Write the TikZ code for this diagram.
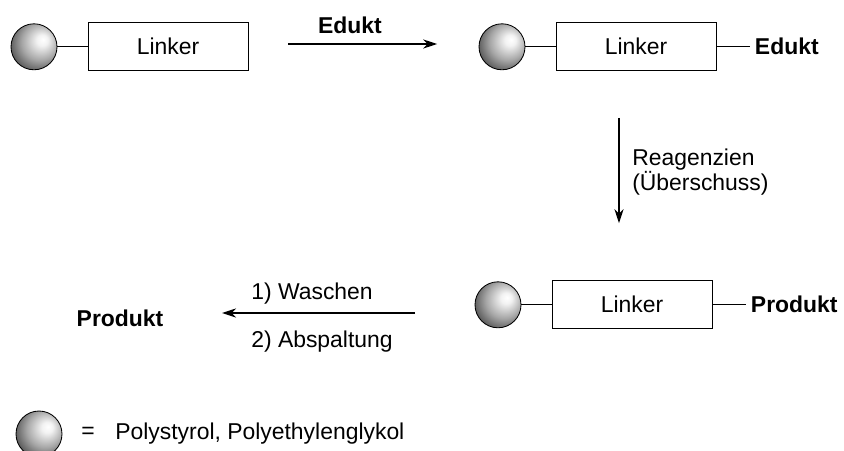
\documentclass[tikz,border=0pt]{standalone}
\usepackage{fontspec}
\setmainfont{Liberation Sans}
\usetikzlibrary{arrows.meta}

% Kugel (Harz) mit Glanzlicht rechts oben
\pgfdeclareradialshading{perle}{\pgfqpoint{10bp}{8bp}}{%
  color(0bp)=(white); color(6bp)=(white!95!black); color(20bp)=(black!35);
  color(34bp)=(black!72); color(46bp)=(black!92); color(60bp)=(black)}

\tikzset{
  perle/.style={circle, draw, line width=0.6pt, minimum size=1.15cm, inner sep=0pt, shading=perle},
  linker/.style={draw, line width=0.6pt, minimum width=4cm, minimum height=1.2cm},
  pfeil/.style={-{Stealth[length=10pt,width=6.5pt]}, line width=0.9pt},
  strich/.style={line width=0.6pt}
}

\begin{document}
\begin{tikzpicture}[font=\fontsize{16.3}{17.8}\selectfont]
                \useasboundingbox (0,0) rectangle (21.1,11.25);

                % obere Reihe
                \node[perle] (kugelA) at (0.85, 10.08) {};
                \node[linker] (linkerA) at (4.2, 10.08) {Linker};
                \draw[strich] (kugelA) -- (linkerA);

                \coordinate (edStart) at (7.2, 10.15);
                \coordinate (edEnde) at (10.93, 10.15);
                \draw[pfeil] (edStart) -- (edEnde);
                \node (eduktPfeil) at (8.75, 10.625) {\bfseries Edukt};

                \node[perle] (kugelB) at (12.55, 10.08) {};
                \node[linker] (linkerB) at (15.9, 10.08) {Linker};
                \node[anchor=west] (eduktB) at (18.75, 10.08) {\bfseries Edukt};
                \draw[strich] (kugelB) -- (linkerB);
                \draw[strich] (linkerB) -- (eduktB);

                % Reagenzien
                \coordinate (reStart) at (15.475, 8.3);
                \coordinate (reEnde) at (15.475, 5.67);
                \draw[pfeil] (reStart) -- (reEnde);
                \node[anchor=west, align=left, inner sep=0pt] (reagenz) at (15.8, 6.96) {Reagenzien\\(Überschuss)};

                % untere Reihe
                \node[perle] (kugelC) at (12.45, 3.63) {};
                \node[linker] (linkerC) at (15.8, 3.63) {Linker};
                \node[anchor=west] (produktC) at (18.65, 3.63) {\bfseries Produkt};
                \draw[strich] (kugelC) -- (linkerC);
                \draw[strich] (linkerC) -- (produktC);

                \coordinate (abStart) at (10.375, 3.425);
                \coordinate (abEnde) at (5.55, 3.425);
                \draw[pfeil] (abStart) -- (abEnde);
                \node[anchor=base west, inner sep=0pt] (waschen) at (6.275, 3.775) {1) Waschen};
                \node[anchor=base west, inner sep=0pt] (abspalt) at (6.275, 2.575) {2) Abspaltung};
                \node (produkt) at (3.0, 3.3) {\bfseries Produkt};

                % Legende
                \node[perle] (kugelL) at (0.975, 0.4) {};
                \node (gleich) at (2.2, 0.42) {=};
                \node[anchor=west, inner sep=0pt] (harz) at (2.875, 0.4) {Polystyrol, Polyethylenglykol};
            \end{tikzpicture}
\end{document}
